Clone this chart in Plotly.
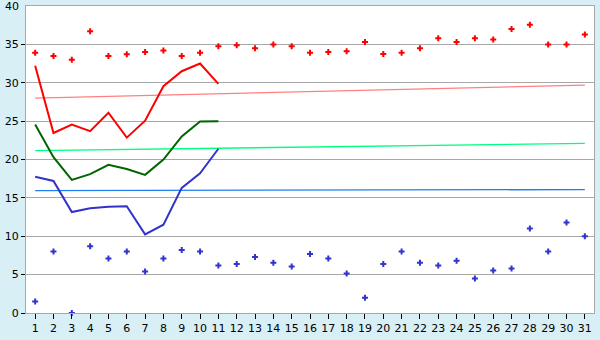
import plotly.graph_objects as go

days = list(range(1, 32))
x_labels = [str(d) for d in days]

max_points = [33.9, 33.5, 33.0, 36.7, 33.5, 33.7, 34.0, 34.2, 33.5, 33.9,
              34.75, 34.9, 34.5, 35.0, 34.75, 33.9, 34.0, 34.1, 35.3, 33.75,
              33.9, 34.5, 35.8, 35.3, 35.8, 35.65, 37.0, 37.55, 35.0, 35.0, 36.3]
min_points = [1.5, 8.0, 0.0, 8.7, 7.1, 8.0, 5.4, 7.1, 8.2, 8.0,
              6.2, 6.4, 7.3, 6.55, 6.05, 7.7, 7.1, 5.15, 2.0, 6.4,
              8.0, 6.55, 6.2, 6.8, 4.5, 5.55, 5.8, 11.0, 8.0, 11.8, 10.0]

line_days = list(range(1, 12))
red_line = [32.2, 23.45, 24.55, 23.7, 26.1, 22.85, 25.05, 29.55, 31.5, 32.5, 29.85]
green_line = [24.55, 20.3, 17.35, 18.1, 19.3, 18.75, 18.0, 20.0, 23.0, 24.95, 25.0]
blue_line = [17.75, 17.2, 13.15, 13.65, 13.85, 13.9, 10.25, 11.5, 16.3, 18.2, 21.4]

trend_days = [1, 31]
red_trend = [28.0, 29.7]
green_trend = [21.15, 22.1]
blue_trend = [15.95, 16.08]

y_ticks = [0, 5, 10, 15, 20, 25, 30, 35, 40]

fig = go.Figure()

fig.add_trace(go.Scatter(x=trend_days, y=red_trend, mode="lines",
                         line=dict(color="#FF8080", width=1.3), showlegend=False))
fig.add_trace(go.Scatter(x=trend_days, y=green_trend, mode="lines",
                         line=dict(color="#00FF80", width=1.3), showlegend=False))
fig.add_trace(go.Scatter(x=trend_days, y=blue_trend, mode="lines",
                         line=dict(color="#1E80F0", width=1.3), showlegend=False))

fig.add_trace(go.Scatter(x=line_days, y=red_line, mode="lines",
                         line=dict(color="#FF0000", width=2), showlegend=False))
fig.add_trace(go.Scatter(x=line_days, y=green_line, mode="lines",
                         line=dict(color="#006400", width=2), showlegend=False))
fig.add_trace(go.Scatter(x=line_days, y=blue_line, mode="lines",
                         line=dict(color="#3333CC", width=2), showlegend=False))

fig.add_trace(go.Scatter(x=days, y=max_points, mode="markers",
                         marker=dict(symbol="cross", size=5, color="#FF0000",
                                     line=dict(width=0)),
                         showlegend=False, cliponaxis=False))
fig.add_trace(go.Scatter(x=days, y=min_points, mode="markers",
                         marker=dict(symbol="cross", size=5, color="#3333CC",
                                     line=dict(width=0)),
                         showlegend=False, cliponaxis=False))

# top tick label (plotly drops it because it touches the page edge)
fig.add_annotation(xref="paper", x=0, xanchor="right", xshift=-5,
                   yref="y", y=y_ticks[-1], yanchor="middle",
                   text=str(y_ticks[-1]), showarrow=False,
                   font=dict(family="DejaVu Sans", size=11, color="#000000"))

fig.update_layout(
    width=600, height=340,
    margin=dict(l=20, r=5, t=5, b=20),
    paper_bgcolor="#D9EFF6",
    plot_bgcolor="#FFFFFF",
    font=dict(family="DejaVu Sans", size=11, color="#000000"),
    xaxis=dict(
        range=[0.5, 31.5],
        tickmode="array", tickvals=days, ticktext=x_labels,
        showgrid=False, zeroline=False,
        showline=True, linecolor="#A8A8A8", linewidth=1, mirror=True,
        ticks="outside", ticklen=5, tickcolor="#000000", tickwidth=1,
        tickfont=dict(size=11),
    ),
    yaxis=dict(
        range=[0, 40],
        tickmode="array", tickvals=y_ticks[:-1], ticktext=[str(v) for v in y_ticks[:-1]],
        showgrid=True, gridcolor="#A8A8A8", gridwidth=1,
        zeroline=False,
        showline=True, linecolor="#A8A8A8", linewidth=1, mirror=True,
        ticks="outside", ticklen=4, tickcolor="#000000", tickwidth=1,
        tickfont=dict(size=11),
    ),
)

fig.write_html("out.html")
